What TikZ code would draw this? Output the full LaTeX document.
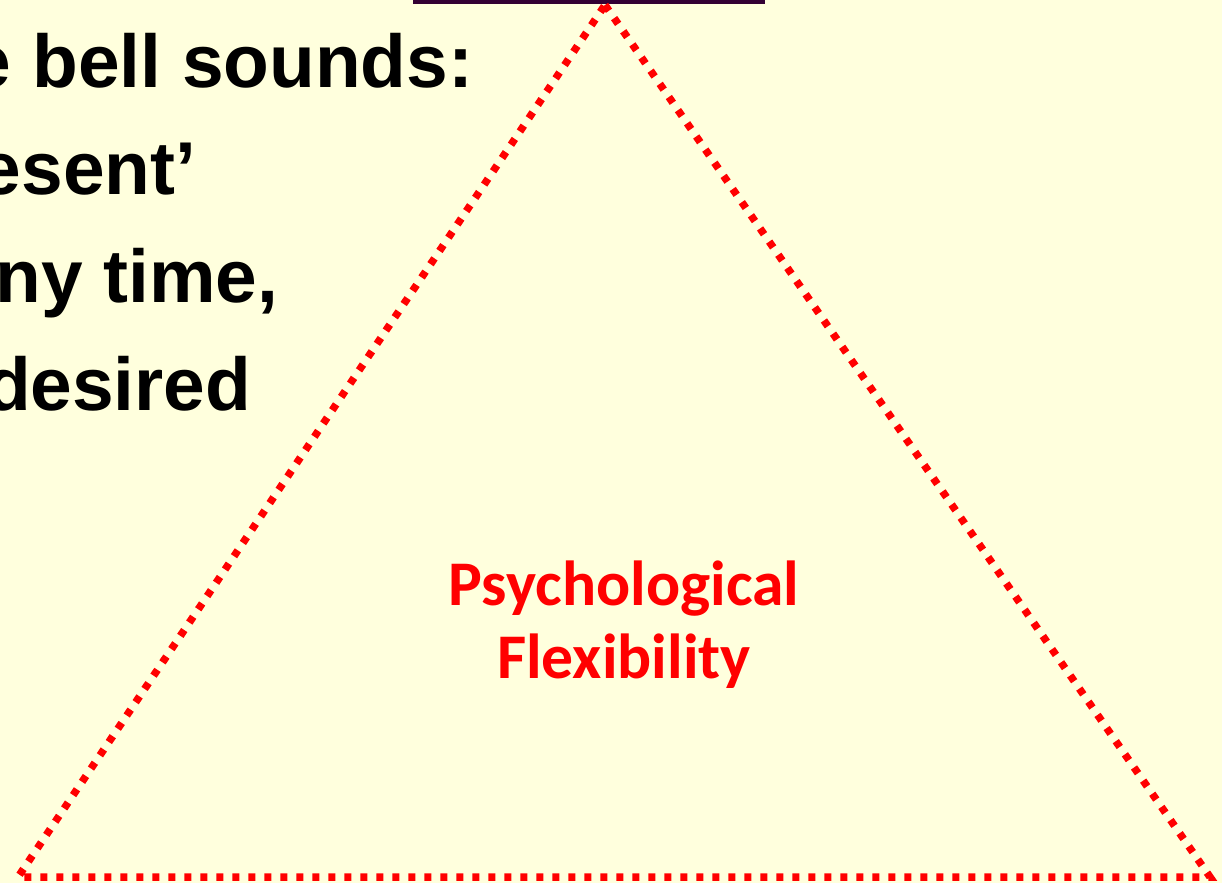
\documentclass[tikz,border=0pt]{standalone}
\usepackage{fontspec}
\usepackage{xcolor}
\usetikzlibrary{positioning}
\newfontfamily\slidefont{Liberation Sans}
\newfontfamily\flexfont{Carlito}
\definecolor{slidebg}{RGB}{255,255,221}
\definecolor{topbar}{RGB}{51,0,51}

\tikzset{
  bodytext/.style={inner sep=0pt, anchor=base east, font=\slidefont\bfseries\fontsize{21.3}{25}\selectfont},
  flexlabel/.style={inner sep=0pt, align=center, text=red, font=\flexfont\bfseries\fontsize{18.1}{20.8}\selectfont},
  dotline/.style={red, line width=0.075cm, dash pattern=on 0.07cm off 0.09cm}
}

\begin{document}
\begin{tikzpicture}
% page
\useasboundingbox (0,0) rectangle (12.22,8.83);
\fill[slidebg] (0,0) rectangle (12.22,8.83);
% edge of the box above
\fill[topbar] (4.13,8.79) rectangle (7.65,8.83);
% text running off the left side
\node[bodytext] (bell) at (4.74,7.95) {e bell sounds:};
\node[bodytext] (present) at (1.97,6.88) {esent’};
\node[bodytext] (anytime) at (2.79,5.80) {ny time,};
\node[bodytext] (desired) at (2.52,4.73) {desired};
% triangle
\coordinate (apex) at (6.05,8.78);
\coordinate (left) at (0.18,0.06);
\coordinate (right) at (12.10,0.06);
\draw[dotline] (apex) -- (right) -- (left) -- cycle;
\node[flexlabel] (flex) at (6.24,2.58) {Psychological\\Flexibility};
\end{tikzpicture}
\end{document}
